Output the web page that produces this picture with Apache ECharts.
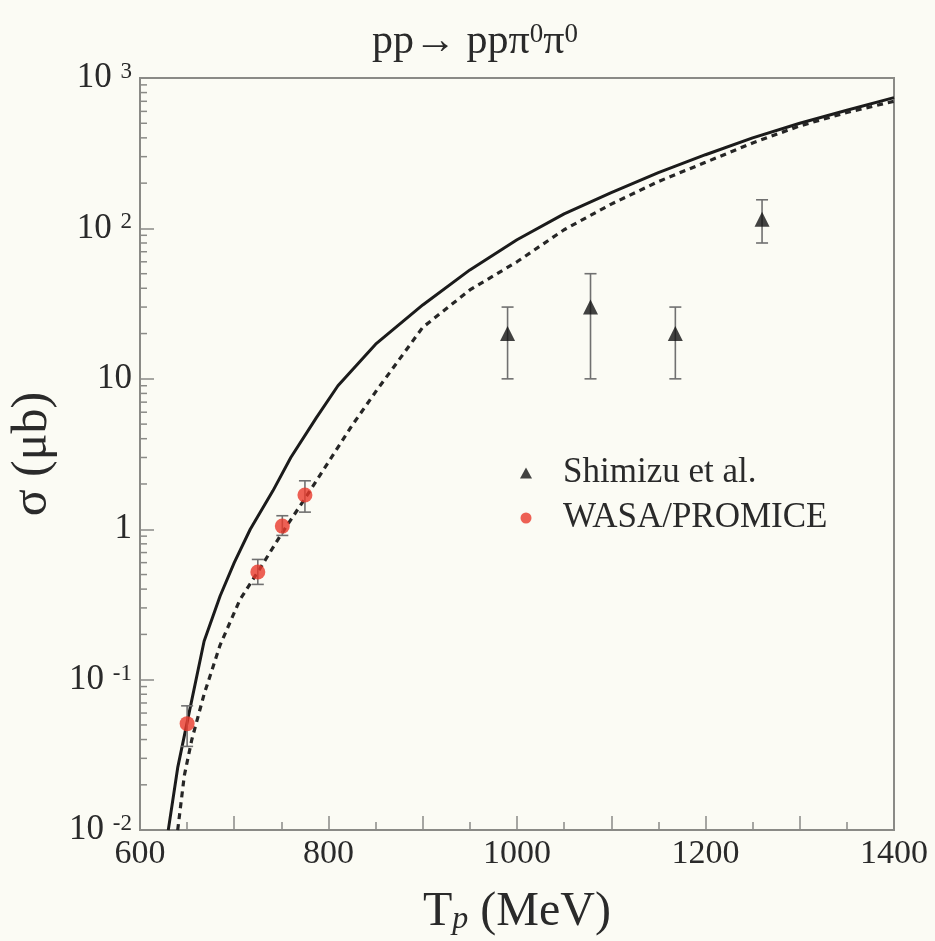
<!DOCTYPE html>
<html>
<head>
<meta charset="utf-8">
<script src="https://cdn.jsdelivr.net/npm/echarts@6/dist/echarts.min.js"></script>
<style>
  html, body { margin: 0; padding: 0; background: #fbfbf4; }
  #chart { width: 935px; height: 941px; }
</style>
</head>
<body>
<div id="chart"></div>
<script>
// Theory curves: total cross section vs beam kinetic energy
const solidT     = [630, 640, 650, 668, 685, 700, 717, 741, 760, 787, 810, 850, 900, 950, 1000, 1050, 1100, 1150, 1200, 1250, 1300, 1350, 1400];
const solidSigma = [0.01, 0.026, 0.052, 0.18, 0.36, 0.6, 1.0, 1.8, 3.0, 5.5, 9.0, 17, 31, 53, 84, 125, 173, 235, 309, 400, 500, 610, 740];
const dashT      = [640, 647, 655, 668, 685, 706, 725, 750, 775, 800, 825, 850, 900, 950, 1000, 1050, 1100, 1150, 1200, 1250, 1300, 1350, 1400];
const dashSigma  = [0.01, 0.023, 0.04, 0.08, 0.17, 0.34, 0.52, 0.93, 1.6, 2.8, 4.9, 8.2, 22, 39, 60, 98, 145, 205, 275, 370, 480, 590, 700];

// Shimizu et al. measurements
const shimizuT     = [990, 1078, 1168, 1260];
const shimizuSigma = [20, 30, 20, 115];
const shimizuLow   = [10, 10, 10, 80];
const shimizuHigh  = [30, 50, 30, 155];

// WASA/PROMICE measurements
const wasaT     = [650, 725, 751, 775];
const wasaSigma = [0.051, 0.52, 1.05, 1.69];
const wasaLow   = [0.036, 0.43, 0.91, 1.3];
const wasaHigh  = [0.067, 0.63, 1.23, 2.1];

// Axis tick labels
const xTickLabels = ['600', '800', '1000', '1200', '1400'];
const yTickLabels = ['10^-2', '10^-1', '1', '10', '10^2', '10^3'];

const serif = '"Liberation Serif", "DejaVu Serif", serif';
const ink = '#2a2a2a';
const frame = '#8a8a86';

function pairs(xs, ys) { return xs.map((x, i) => [x, ys[i]]); }
function errData(xs, lo, hi) { return xs.map((x, i) => [x, lo[i], hi[i]]); }

function yLabel(v) {
  const e = Math.round(Math.log10(v));
  const txt = yTickLabels[e + 2];
  if (!txt) return '';
  const parts = txt.split('^');
  if (parts.length === 1) return '{b|' + parts[0] + '}';
  return '{b|' + parts[0] + ' }{s|' + parts[1] + '}';
}

function errorBarItem(params, api) {
  const x = api.value(0);
  const lo = api.coord([x, api.value(1)]);
  const hi = api.coord([x, api.value(2)]);
  const cap = 6;
  const style = { stroke: '#707070', lineWidth: 1.6 };
  return {
    type: 'group',
    children: [
      { type: 'line', shape: { x1: lo[0], y1: lo[1], x2: hi[0], y2: hi[1] }, style },
      { type: 'line', shape: { x1: lo[0] - cap, y1: lo[1], x2: lo[0] + cap, y2: lo[1] }, style },
      { type: 'line', shape: { x1: hi[0] - cap, y1: hi[1], x2: hi[0] + cap, y2: hi[1] }, style }
    ]
  };
}

// Minor ticks of the log axis (2..9 within each decade)
const logMinor = [];
for (let d = -2; d < 3; d++) {
  for (let m = 2; m <= 9; m++) logMinor.push([600, m * Math.pow(10, d)]);
}

const chart = echarts.init(document.getElementById('chart'), null, { renderer: 'canvas' });

chart.setOption({
  backgroundColor: '#fbfbf4',
  animation: false,
  title: {
    text: '{t|pp\u2192 pp\u03c0}{s|0}{t|\u03c0}{s|0}',
    left: 470, top: 16, textAlign: 'center',
    textStyle: {
      fontFamily: serif, fontSize: 42, fontWeight: 'normal', color: ink,
      rich: {
        t: { fontFamily: serif, fontSize: 42, lineHeight: 42, color: ink },
        s: { fontFamily: serif, fontSize: 27, lineHeight: 27, color: ink, verticalAlign: 'top', padding: [0, 0, 24, 0] }
      }
    }
  },
  legend: {
    orient: 'vertical',
    left: 515, top: 450,
    itemWidth: 12, itemHeight: 11,
    itemGap: 9,
    data: [
      { name: 'Shimizu et al.', icon: 'triangle' },
      { name: 'WASA/PROMICE', icon: 'circle' }
    ],
    textStyle: { fontFamily: serif, fontSize: 35, lineHeight: 36, color: ink, padding: [0, 0, 0, 26] }
  },
  grid: {
    left: 132, right: 41, top: 78, bottom: 109,
    show: true, borderColor: frame, borderWidth: 2, backgroundColor: 'transparent'
  },
  xAxis: {
    type: 'value', min: 600, max: 1400, interval: 100,
    name: '{b|T}{sub|p}{b| (MeV)}',
    nameLocation: 'middle', nameGap: 50,
    nameTextStyle: {
      fontFamily: serif, color: ink,
      rich: {
        b: { fontFamily: serif, fontSize: 48, color: ink },
        sub: { fontFamily: serif, fontSize: 32, fontStyle: 'italic', color: ink, verticalAlign: 'bottom', lineHeight: 32, padding: [28, 0, 0, 0] }
      }
    },
    axisLine: { show: true, lineStyle: { color: frame, width: 2 } },
    axisTick: { show: true, inside: true, length: 14, lineStyle: { color: frame, width: 1.5 } },
    minorTick: { show: true, splitNumber: 2, length: 8, lineStyle: { color: frame, width: 1.5 } },
    splitLine: { show: false },
    axisLabel: {
      margin: 7, fontFamily: serif, fontSize: 34, color: ink,
      formatter: v => (v % 200 === 0 ? xTickLabels[(v - 600) / 200] : '')
    }
  },
  yAxis: {
    type: 'log', logBase: 10, min: 0.01, max: 1000, splitNumber: 5,
    name: '\u03c3 (\u03bcb)',
    nameLocation: 'middle', nameGap: 82, nameRotate: 90,
    nameTextStyle: { fontFamily: serif, fontSize: 50, color: ink },
    axisLine: { show: true, lineStyle: { color: frame, width: 2 } },
    axisTick: { show: true, inside: true, length: 14, lineStyle: { color: frame, width: 1.5 } },
    splitLine: { show: false },
    axisLabel: {
      margin: 8, color: ink,
      formatter: yLabel,
      rich: {
        b: { fontFamily: serif, fontSize: 35, lineHeight: 35, color: ink },
        s: { fontFamily: serif, fontSize: 23, lineHeight: 23, color: ink, verticalAlign: 'top', padding: [0, 0, 16, 0] }
      }
    }
  },
  series: [
    {
      name: 'minor', type: 'custom', silent: true, z: 1,
      renderItem: (params, api) => {
        const p = api.coord([api.value(0), api.value(1)]);
        return { type: 'line', shape: { x1: p[0], y1: p[1], x2: p[0] + 7, y2: p[1] }, style: { stroke: frame, lineWidth: 1.5 } };
      },
      data: logMinor
    },
    {
      name: 'full', type: 'line', data: pairs(solidT, solidSigma),
      showSymbol: false, symbol: 'none', clip: true, z: 3,
      lineStyle: { color: '#1b1b1b', width: 3 }
    },
    {
      name: 'reduced', type: 'line', data: pairs(dashT, dashSigma),
      showSymbol: false, symbol: 'none', clip: true, z: 3,
      lineStyle: { color: '#262626', width: 3.2, type: [6, 5] }
    },
    {
      name: 'shimizuErr', type: 'custom', renderItem: errorBarItem, z: 4,
      data: errData(shimizuT, shimizuLow, shimizuHigh)
    },
    {
      name: 'wasaErr', type: 'custom', renderItem: errorBarItem, z: 4,
      data: errData(wasaT, wasaLow, wasaHigh)
    },
    {
      name: 'Shimizu et al.', type: 'scatter', symbol: 'triangle', symbolSize: 15, z: 5,
      itemStyle: { color: '#141414' },
      data: pairs(shimizuT, shimizuSigma)
    },
    {
      name: 'WASA/PROMICE', type: 'scatter', symbol: 'circle', symbolSize: 15, z: 5,
      itemStyle: { color: '#ea3a2c' },
      data: pairs(wasaT, wasaSigma)
    }
  ]
});
</script>
</body>
</html>
